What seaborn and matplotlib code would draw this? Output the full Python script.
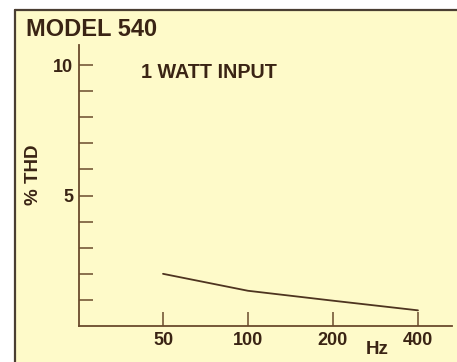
import matplotlib
matplotlib.use("Agg")
import matplotlib.pyplot as plt
from matplotlib.patches import Rectangle
import seaborn as sns
import pandas as pd

# Distortion vs frequency at 1 W
freq_hz = [50, 100, 200, 400]
thd_pct = [2.0, 1.35, 0.97, 0.6]
x_ticks = [50, 100, 200, 400]
y_ticks = [1, 2, 3, 4, 5, 6, 7, 8, 9, 10]
y_labels = ["", "", "", "", "5", "", "", "", "", "10"]

sns.set_theme(style="white")
plt.rcParams["font.family"] = ["Liberation Sans", "DejaVu Sans"]

ink = "#3a2414"
axis_col = "#6a4a2c"
paper = "#FEFAC9"

W, H = 457, 362
fig = plt.figure(figsize=(W / 100, H / 100), dpi=100, facecolor="white")

# panel background with a frame on the left and top
panel = Rectangle((14 / W, 0), 1 - 14 / W, (H - 10) / H, transform=fig.transFigure,
                  facecolor=paper, edgecolor="none", zorder=-10)
fig.patches.append(panel)
fig.add_artist(plt.Line2D([14.5 / W, 14.5 / W], [0, (H - 10) / H], transform=fig.transFigure,
                          color="#4a3e32", lw=1.6, zorder=-5))
fig.add_artist(plt.Line2D([14.5 / W, 1], [(H - 10) / H, (H - 10) / H], transform=fig.transFigure,
                          color="#4a3e32", lw=1.6, zorder=-5))

ax = fig.add_axes([79 / W, (H - 326) / H, (452 - 79) / W, (326 - 45) / H])
ax.set_zorder(5)
ax.set_facecolor("none")
ax.patch.set_alpha(0)

df = pd.DataFrame({"Hz": freq_hz, "THD": thd_pct})
sns.lineplot(data=df, x="Hz", y="THD", ax=ax, color="#4e3420", lw=1.3)

ax.set_xscale("log")
ax.set_xlim(25.2, 528)
ax.set_ylim(0, 10.77)
ax.set_xticks(x_ticks)
ax.set_xticklabels([str(v) for v in x_ticks])
ax.minorticks_off()
ax.set_yticks(y_ticks)
ax.set_yticklabels(y_labels)
ax.set_xlabel("")
ax.set_ylabel("")

for s in ["top", "right"]:
    ax.spines[s].set_visible(False)
for s in ["left", "bottom"]:
    ax.spines[s].set_color(axis_col)
    ax.spines[s].set_linewidth(1.3)

ax.tick_params(axis="y", left=True, direction="in", length=10, width=1.1, color=axis_col,
               labelsize=13, labelcolor=ink, pad=4)
ax.tick_params(axis="x", bottom=True, direction="in", length=10, width=1.1, color=axis_col,
               labelsize=13, labelcolor=ink, pad=4)
for lab in ax.get_xticklabels() + ax.get_yticklabels():
    lab.set_fontweight("bold")

fig.text(26 / W, 1 - 29 / H, "MODEL 540", fontsize=17, fontweight="bold",
         color=ink, ha="left", va="center")
fig.text(141 / W, 1 - 72 / H, "1 WATT INPUT", fontsize=14.2, fontweight="bold",
         color=ink, ha="left", va="center")
fig.text(33 / W, 1 - 175 / H, "% THD", fontsize=13.5, fontweight="bold",
         color=ink, ha="center", va="center", rotation=90)
fig.text(377 / W, 1 - 350 / H, "Hz", fontsize=13.5, fontweight="bold",
         color=ink, ha="center", va="center")

fig.savefig("out.png", dpi=100, facecolor="white")
